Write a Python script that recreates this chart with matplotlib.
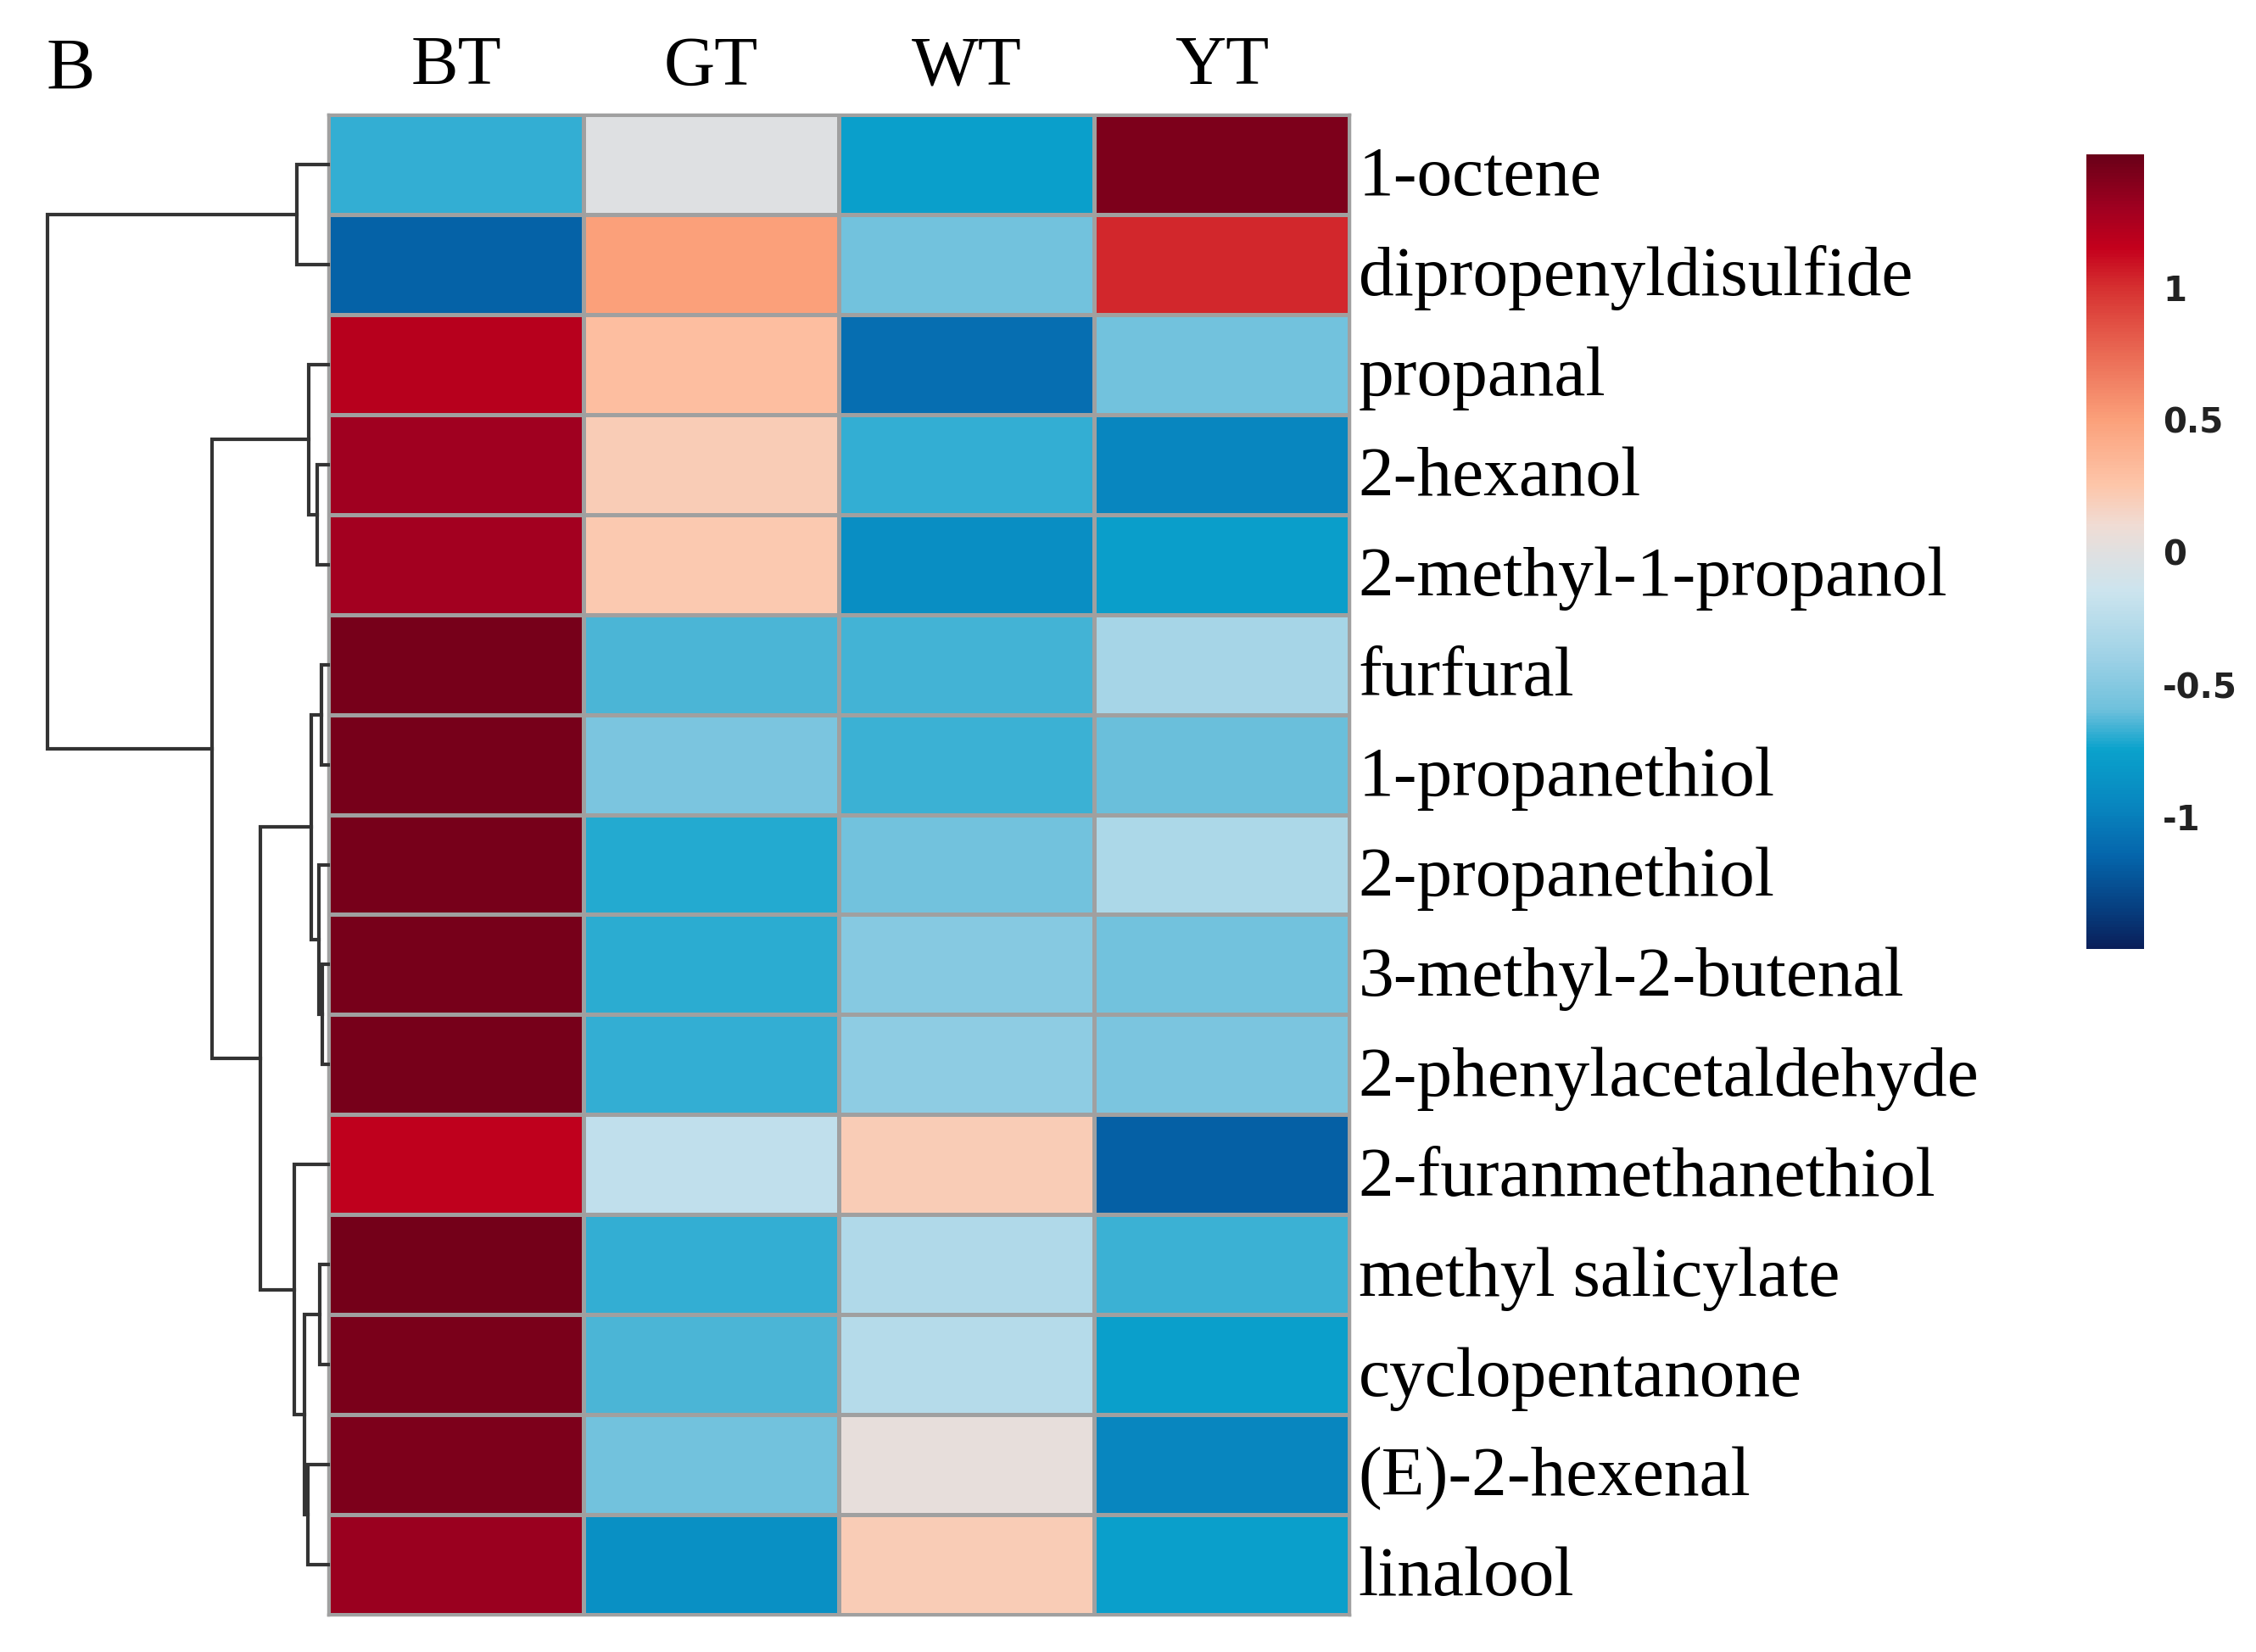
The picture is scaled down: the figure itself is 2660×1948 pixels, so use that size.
import numpy as np
import matplotlib
matplotlib.use("Agg")
import matplotlib.pyplot as plt
from matplotlib.colors import LinearSegmentedColormap, Normalize

# columns and compounds (row order as shown, top to bottom)
samples = ["BT", "GT", "WT", "YT"]
compounds = ["1-octene", "dipropenyldisulfide", "propanal", "2-hexanol",
             "2-methyl-1-propanol", "furfural", "1-propanethiol", "2-propanethiol",
             "3-methyl-2-butenal", "2-phenylacetaldehyde", "2-furanmethanethiol",
             "methyl salicylate", "cyclopentanone", "(E)-2-hexenal", "linalool"]

bt = [-0.69, -1.17, 1.20, 1.30, 1.28, 1.45, 1.45, 1.45, 1.45, 1.45, 1.17, 1.46, 1.44, 1.42, 1.32]
gt = [-0.02, 0.50, 0.30, 0.20, 0.23, -0.65, -0.55, -0.71, -0.70, -0.69, -0.22, -0.68, -0.65, -0.58, -0.88]
wt = [-0.77, -0.58, -1.10, -0.69, -0.90, -0.66, -0.67, -0.58, -0.50, -0.46, 0.20, -0.30, -0.27, 0.04, 0.20]
yt = [1.42, 1.03, -0.58, -0.95, -0.78, -0.36, -0.60, -0.32, -0.58, -0.55, -1.18, -0.67, -0.77, -0.95, -0.77]

# row dendrogram: merges of nodes (leaves 0-14, merged clusters 15+) and their heights
merge_a = [8, 5, 11, 7, 3, 16, 2, 13, 17, 0, 10, 20, 21, 24]
merge_b = [9, 6, 12, 15, 4, 18, 19, 14, 22, 1, 23, 25, 26, 27]
merge_h = [7, 8, 10, 11, 13, 20, 23, 24, 28, 37, 40, 81, 139, 335]

# colour scale
cb_ticks = [-1, -0.5, 0, 0.5, 1]
cmap_vals = [-1.5, -1.35, -1.15, -0.95, -0.75, -0.6, -0.4, -0.15, 0, 0.1,
             0.25, 0.5, 0.75, 1.0, 1.15, 1.3, 1.5]
cmap_cols = ["#0a1f5a", "#063f80", "#0566ac", "#0888c0", "#0aa2cc", "#6ec0dc",
             "#9ed2e6", "#cce4ee", "#e0e0e0", "#f0dcd4", "#fdc6aa", "#fba07a",
             "#ea6a54", "#d63030", "#c4001c", "#a00020", "#6a0018"]

vmin, vmax = -1.5, 1.5
pos = [(v - vmin) / (vmax - vmin) for v in cmap_vals]
cmap = LinearSegmentedColormap.from_list("rb", list(zip(pos, cmap_cols)))
norm = Normalize(vmin, vmax)

data = np.array([bt, gt, wt, yt]).T
W, H = 2660, 1949
fig = plt.figure(figsize=(W / 100, H / 100), dpi=100)
serif = "Liberation Serif"

# heatmap
hl, hr, ht, hb = 387, 1591, 136, 1905
ax = fig.add_axes([hl / W, 1 - hb / H, (hr - hl) / W, (hb - ht) / H])
ax.pcolormesh(np.arange(len(samples) + 1), np.arange(len(compounds) + 1), data,
              cmap=cmap, norm=norm, edgecolors="#a0a0a0", linewidth=2.5)
ax.set_xlim(0, len(samples))
ax.set_ylim(len(compounds), 0)
ax.set_xticks([])
ax.set_yticks([])
for s in ax.spines.values():
    s.set_color("#a0a0a0")
    s.set_linewidth(2.5)

for j, name in enumerate(samples):
    ax.text(j + 0.5, -0.31, name, ha="center", va="baseline",
            fontsize=60, family=serif)
for i, name in enumerate(compounds):
    ax.text(len(samples) + 0.035, i + 0.8, name, ha="left", va="baseline",
            fontsize=60, family=serif)

fig.text(54 / W, 1 - 105 / H, "B", ha="left", va="baseline", fontsize=62, family=serif)

# dendrogram
dl = 56
dax = fig.add_axes([dl / W, 1 - hb / H, (hl - dl) / W, (hb - ht) / H])
ypos = {i: i + 0.5 for i in range(len(compounds))}
hgt = {i: 0 for i in range(len(compounds))}
n = len(compounds)
for k, (a, b, h) in enumerate(zip(merge_a, merge_b, merge_h)):
    ya, yb = ypos[a], ypos[b]
    dax.plot([hgt[a], h, h, hgt[b]], [ya, ya, yb, yb], color="#333333",
             lw=3, solid_joinstyle="miter", clip_on=False)
    ypos[n + k] = (ya + yb) / 2
    hgt[n + k] = h
dax.set_xlim(max(merge_h), 0)
dax.set_ylim(len(compounds), 0)
dax.axis("off")

# colour bar
cax = fig.add_axes([2460 / W, 1 - 1120 / H, 68 / W, (1120 - 183) / H])
sm = plt.cm.ScalarMappable(cmap=cmap, norm=norm)
cb = fig.colorbar(sm, cax=cax, ticks=cb_ticks)
cb.outline.set_visible(False)
cb.ax.set_yticklabels(["-1", "-0.5", "0", "0.5", "1"])
cb.ax.tick_params(length=0, pad=16, labelsize=29, labelcolor="#222222")
for t in cb.ax.get_yticklabels():
    t.set_fontweight("bold")
    t.set_family("DejaVu Sans")

fig.savefig("out.png", dpi=100, facecolor="white")
